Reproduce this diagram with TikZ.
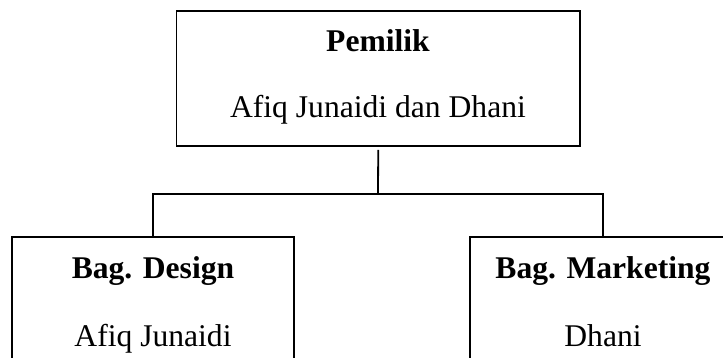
\documentclass[tikz,border=0pt]{standalone}
\usepackage{fontspec}
\setmainfont{Liberation Serif}
\usetikzlibrary{positioning}

\begin{document}
\begin{tikzpicture}[x=0.5pt,y=-0.5pt,line width=0.9pt,
    box node/.style={rectangle,draw,inner sep=0pt},
    head node/.style={anchor=base,font=\fontsize{15.8}{19}\selectfont\bfseries},
    name node/.style={anchor=base,font=\fontsize{15.8}{19}\selectfont}]
   \useasboundingbox (0,0) rectangle (723,358);
   \clip (0,0) rectangle (723,358);
   \begin{scope}
      \node[box node,minimum width=201.75pt,minimum height=67.65pt] (pemilik) at (378.25,78.35) {};
      \node[box node,minimum width=141pt,minimum height=85pt] (design) at (153,322) {};
      \node[box node,minimum width=133pt,minimum height=85pt] (marketing) at (603,322) {};
      \coordinate (bus) at (378,194);
      % texts
      \node[head node] (pemilikhead) at (378,52) {Pemilik};
      \node[name node] (pemilikname) at (378,118) {Afiq Junaidi dan Dhani};
      \node[head node] (designhead) at (153,278) {Bag. Design};
      \node[name node] (designname) at (153,346) {Afiq Junaidi};
      \node[head node] (marketinghead) at (603,278) {Bag. Marketing};
      \node[name node] (marketingname) at (603,346) {Dhani};
      % lines
      \draw[shorten <=1.5pt] (pemilik.south) -- (bus);
      \draw (design.north) -- (design.north |- bus) -- (marketing.north |- bus) -- (marketing.north);
   \end{scope}
\end{tikzpicture}
\end{document}
